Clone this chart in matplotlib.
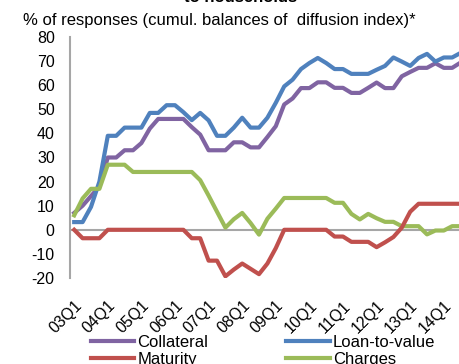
import matplotlib
matplotlib.use("Agg")
import matplotlib.pyplot as plt
import matplotlib.transforms as mtransforms
import numpy as np

plt.rcParams["font.family"] = ["Liberation Sans", "DejaVu Sans"]
plt.rcParams["axes.unicode_minus"] = False

# quarterly data 03Q1 .. 14Q3
collateral = [7, 10, 14, 18, 30, 30, 33, 33, 36, 42, 46, 46, 46, 46, 42.6, 39.5,
              33, 33, 33, 36.3, 36.3, 34.2, 34.2, 38.5, 43, 52, 54.5, 58.8, 58.8, 61.2,
              61.2, 58.9, 58.9, 56.8, 56.8, 58.9, 61.1, 58.8, 58.8, 63.7, 65.5, 67.2,
              67.2, 69.1, 67.2, 67.2, 69.4]
loan_to_value = [3.2, 3.2, 9.5, 20, 39, 39, 42.4, 42.4, 42.4, 48.5, 48.5, 51.7, 51.7,
                 48.8, 45.5, 48.5, 45.4, 39, 39, 42.4, 46.5, 42.4, 42.4, 46.5, 52.7,
                 59.5, 62.3, 66.7, 69.2, 71.3, 69.2, 66.7, 66.7, 64.7, 64.7, 64.7, 66.4,
                 68, 71.5, 69.8, 68, 71.3, 73, 69.8, 71.5, 71.5, 73.4]
maturity = [0, -3.5, -3.5, -3.5, 0, 0, 0, 0, 0, 0, 0, 0, 0, 0, -3.5, -3.5,
            -12.8, -12.8, -19.3, -16.5, -14, -16.2, -18.4, -14, -7.6, 0, 0, 0, 0, 0,
            0, -2.8, -2.8, -5, -5, -5, -7.2, -5.2, -3, 0.9, 7.5, 10.8, 10.8, 10.8,
            10.8, 10.8, 10.8]
charges = [6, 13, 17, 17, 27, 27, 27, 24, 24, 24, 24, 24, 24, 24, 24, 20.6,
           14.2, 7.5, 0.9, 4.4, 7, 2.8, -2, 4.6, 8.8, 13.2, 13.2, 13.2, 13.2, 13.2,
           13.2, 11.2, 11.2, 6.6, 4.3, 6.6, 4.8, 3.3, 3.3, 1.5, 1.5, 1.5, -1.9, -0.3,
           -0.3, 1.5, 1.5]
year_labels = ["03Q1", "04Q1", "05Q1", "06Q1", "07Q1", "08Q1",
               "09Q1", "10Q1", "11Q1", "12Q1", "13Q1", "14Q1"]

x = np.arange(len(collateral))

W, H = 459, 364
fig = plt.figure(figsize=(W / 100, H / 100), dpi=100)
left, right = 70, 70 + 47 * 8.4
top, bottom = 37, 278
ax = fig.add_axes([left / W, 1 - bottom / H, (right - left) / W, (bottom - top) / H])

l1, = ax.plot(x, collateral, color="#8064A2", lw=3, label="Collateral", zorder=3)
l2, = ax.plot(x, loan_to_value, color="#4F81BD", lw=3, label="Loan-to-value", zorder=3)
l3, = ax.plot(x, maturity, color="#C0504D", lw=3, label="Maturity", zorder=4)
l4, = ax.plot(x, charges, color="#9BBB59", lw=3, label="Charges", zorder=3)

ax.axhline(0, color="#A6A6A6", lw=1.5, zorder=2)
ax.set_xlim(-0.5, len(collateral) - 0.5)
ax.set_ylim(-20, 80)
ax.set_yticks(range(-20, 81, 10))
ax.set_xticks(x[::4])
ax.set_xticklabels(year_labels, rotation=45, ha="right", va="top",
                   rotation_mode="anchor", fontsize=11.5)
shift = mtransforms.ScaledTranslation(-4 / 100, 0, fig.dpi_scale_trans)
for lab in ax.get_xticklabels():
    lab.set_transform(lab.get_transform() + shift)
ax.tick_params(axis="x", length=0, pad=14.5)
ax.tick_params(axis="y", length=0, pad=11, labelsize=11.5)
for s in ["top", "right", "bottom"]:
    ax.spines[s].set_visible(False)
ax.spines["left"].set_color("#A6A6A6")
ax.spines["left"].set_linewidth(1.5)

fig.text(23 / W, 1 - 20 / H, "% of responses (cumul. balances of  diffusion index)*",
         fontsize=12, ha="left", va="center")
fig.text(241 / W, 1 - 2 / H, "to households", fontsize=12, fontweight="bold",
         ha="center", va="baseline")

# row-wise legend order
fig.legend([l1, l3, l2, l4], ["Collateral", "Maturity", "Loan-to-value", "Charges"],
           loc="center", bbox_to_anchor=(263 / W, 1 - 351 / H), ncol=2,
           frameon=False, fontsize=12, handlelength=2.6, handletextpad=0.2,
           columnspacing=4.7, labelspacing=0.15, borderpad=0)

fig.savefig("out.png", dpi=100)
